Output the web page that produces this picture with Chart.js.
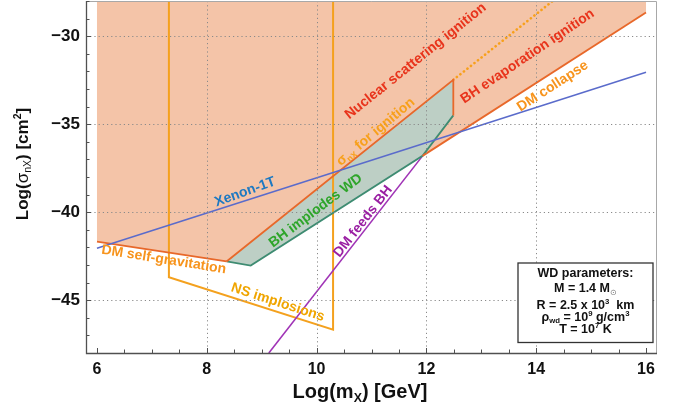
<!DOCTYPE html>
<html>
<head>
<meta charset="utf-8">
<script src="https://cdn.jsdelivr.net/npm/chart.js@4/dist/chart.umd.min.js"></script>
<style>
  html, body { margin: 0; padding: 0; background: #ffffff; }
  #wrap { width: 681px; height: 413px; position: relative; }
</style>
</head>
<body>
<div id="wrap"><canvas id="c" width="681" height="413"></canvas></div>
<script>
// Axis ticks: log10(m_X / GeV) and log10(sigma_nX / cm^2)
const massTicks = [6, 8, 10, 12, 14, 16];
const sigmaTicks = [-45, -40, -35, -30];

// Curves, as [log10 m_X, log10 sigma_nX] pairs
const ignitionExcluded = [[6, -28], [6, -41.67], [8.36, -42.8], [8.8, -43.03], [11.93, -36.8], [16, -28.65], [16, -28]];
const bhImplodesWD = [[8.36, -42.8], [8.8, -43.03], [11.93, -36.8], [12.49, -34.5], [12.49, -32.48]];
const selfGravitation = [[6, -41.67], [8.36, -42.8]];
const nuclearScattering = [[8.36, -42.8], [12.49, -32.48], [12.49, -34.5]];
const nuclearScatteringExtended = [[12.49, -32.48], [14.3, -28]];
const bhEvaporation = [[11.93, -36.8], [16, -28.65]];
const implodesLowerEdge = [[8.36, -42.8], [8.8, -43.03], [11.93, -36.8], [12.49, -34.5]];
const xenon1T = [[6, -42.05], [16, -32.05]];
const dmFeedsBH = [[9.13, -48], [11.93, -36.8]];
const nsImplosions = [[7.31, -28], [7.31, -43.7], [10.3, -46.67], [10.3, -28]];

const FONT = '"Liberation Sans", Arial, Helvetica, sans-serif';

// ---- rich text helpers (sub/superscripts) ----
function segFont(size, seg) {
  const s = seg.k ? size * 0.62 : size;
  const w = seg.w || 'bold';
  return `${w} ${s}px ${FONT}`;
}
function richWidth(ctx, segs, size) {
  let w = 0;
  for (const s of segs) { ctx.font = segFont(size, s); w += ctx.measureText(s.t).width; }
  return w;
}
// draws text centred horizontally on x, with baseline at y
function drawRich(ctx, segs, x, y, size, color) {
  const total = richWidth(ctx, segs, size);
  let cx = x - total / 2;
  ctx.textAlign = 'left';
  ctx.textBaseline = 'alphabetic';
  for (const s of segs) {
    ctx.font = segFont(size, s);
    ctx.fillStyle = s.c || color;
    const dy = s.k === 'sub' ? size * 0.2 : s.k === 'sup' ? -size * 0.38 : 0;
    ctx.fillText(s.t, cx, y + dy);
    cx += ctx.measureText(s.t).width;
  }
}

// ---- curve labels (placed in data coordinates) ----
const curveLabels = [
  { segs: [{ t: 'Nuclear scattering ignition' }], x: 11.79, y: -31.37, angle: -38.8, color: '#E8341C' },
  { segs: [{ t: 'BH evaporation ignition' }], x: 13.83, y: -31.09, angle: -34, color: '#E8341C' },
  { segs: [{ t: 'DM collapse' }], x: 14.29, y: -32.79, angle: -33, color: '#F7941D' },
  { segs: [{ t: 'σ' }, { t: 'nX', k: 'sub' }, { t: ' for ignition' }], x: 11.06, y: -35.39, angle: -40, color: '#F7A01B' },
  { segs: [{ t: 'BH implodes WD' }], x: 9.97, y: -39.86, angle: -37, color: '#2EA52A' },
  { segs: [{ t: 'Xenon-1T' }], x: 8.69, y: -38.79, angle: -20, color: '#1D79C2' },
  { segs: [{ t: 'DM feeds BH' }], x: 10.83, y: -40.49, angle: -52, color: '#9A1FA3' },
  { segs: [{ t: 'DM self-gravitation' }], x: 7.22, y: -42.63, angle: 9, color: '#F7941D' },
  { segs: [{ t: 'NS implosions' }], x: 9.30, y: -45.06, angle: 18, color: '#F0A500' }
];

const paramLines = [
  [{ t: 'WD parameters:' }],
  [{ t: 'M = 1.4 M' }, { t: '⊙', k: 'sub', w: 'normal', c: '#777777' }],
  [{ t: 'R = 2.5 x 10' }, { t: '3', k: 'sup' }, { t: '  km' }],
  [{ t: 'ρ' }, { t: 'wd', k: 'sub' }, { t: ' = 10' }, { t: '9', k: 'sup' }, { t: ' g/cm' }, { t: '3', k: 'sup' }],
  [{ t: 'T = 10' }, { t: '7', k: 'sup' }, { t: ' K' }]
];

// frame, dotted grid, inward ticks
const framePlugin = {
  id: 'frame',
  afterDatasetsDraw(chart) {
    const { ctx, chartArea: a, scales: { x, y } } = chart;
    ctx.save();
    // dotted grid
    ctx.strokeStyle = '#8a8a8a';
    ctx.lineWidth = 1;
    ctx.setLineDash([1.2, 3]);
    for (const v of massTicks) {
      if (v <= 6 || v >= 16) continue;
      const px = Math.round(x.getPixelForValue(v)) + 0.5;
      ctx.beginPath(); ctx.moveTo(px, a.top); ctx.lineTo(px, a.bottom); ctx.stroke();
    }
    for (const v of sigmaTicks) {
      const py = Math.round(y.getPixelForValue(v)) + 0.5;
      ctx.beginPath(); ctx.moveTo(a.left, py); ctx.lineTo(a.right, py); ctx.stroke();
    }
    ctx.setLineDash([]);
    // top / right frame
    ctx.strokeStyle = '#a8a8a8';
    ctx.lineWidth = 1;
    ctx.beginPath();
    ctx.moveTo(a.left, a.top + 0.5); ctx.lineTo(a.right - 0.5, a.top + 0.5); ctx.lineTo(a.right - 0.5, a.bottom);
    ctx.stroke();
    // left / bottom axes
    ctx.strokeStyle = '#505050';
    ctx.lineWidth = 1.3;
    ctx.beginPath();
    ctx.moveTo(a.left + 0.5, a.top); ctx.lineTo(a.left + 0.5, a.bottom + 0.5); ctx.lineTo(a.right, a.bottom + 0.5);
    ctx.stroke();
    // inward tick marks
    ctx.lineWidth = 1;
    ctx.beginPath();
    for (let v = 6; v <= 16.001; v += 0.5) {
      const px = Math.round(x.getPixelForValue(v)) + 0.5;
      const len = massTicks.includes(v) ? 5 : 3.5;
      ctx.moveTo(px, a.bottom); ctx.lineTo(px, a.bottom - len);
    }
    for (let v = -48; v <= -28; v += 1) {
      const py = Math.round(y.getPixelForValue(v)) + 0.5;
      const len = sigmaTicks.includes(v) ? 5 : 3.5;
      ctx.moveTo(a.left, py); ctx.lineTo(a.left + len, py);
    }
    ctx.stroke();
    ctx.restore();
  },
  afterDraw(chart) {
    const { ctx, chartArea: a, scales: { x, y } } = chart;
    ctx.save();
    // curve labels
    for (const L of curveLabels) {
      const px = x.getPixelForValue(L.x), py = y.getPixelForValue(L.y);
      ctx.save();
      ctx.translate(px, py);
      ctx.rotate(L.angle * Math.PI / 180);
      drawRich(ctx, L.segs, 0, 14 * 0.36, 14, L.color);
      ctx.restore();
    }
    // parameter box
    const bw = 135, bh = 79.5;
    const bx = a.right - 4 - bw, by = a.bottom - 10.5 - bh;
    ctx.fillStyle = '#ffffff';
    ctx.fillRect(bx, by, bw, bh);
    ctx.strokeStyle = '#333333';
    ctx.lineWidth = 1.3;
    ctx.strokeRect(bx, by, bw, bh);
    const offs = [14.2, 29.2, 45.7, 57.7, 70.2];
    paramLines.forEach((segs, i) => drawRich(ctx, segs, bx + bw / 2, by + offs[i], 12.5, '#111111'));
    // axis titles
    drawRich(ctx, [{ t: 'Log(m' }, { t: 'X', k: 'sub' }, { t: ') [GeV]' }], 360, 398, 20, '#111111');
    ctx.save();
    ctx.translate(27.5, 164);
    ctx.rotate(-Math.PI / 2);
    drawRich(ctx, [{ t: 'Log(' }, { t: 'σ', w: 'normal' }, { t: 'nX', k: 'sub', w: 'normal' }, { t: ') [cm' }, { t: '2', k: 'sup' }, { t: ']' }], 0, 0, 17, '#111111');
    ctx.restore();
    ctx.restore();
  }
};

const toXY = pts => pts.map(([px, py]) => ({ x: px, y: py }));
function lineSet(data, color, width, extra) {
  return Object.assign({
    data: toXY(data), showLine: true, borderColor: color, borderWidth: width,
    pointRadius: 0, pointHoverRadius: 0, fill: false, tension: 0
  }, extra || {});
}

const fmt = v => (v < 0 ? '\u2212' + Math.abs(v) : String(v));

new Chart(document.getElementById('c'), {
  type: 'scatter',
  data: {
    datasets: [
      lineSet(ignitionExcluded, 'rgba(0,0,0,0)', 0, { fill: 'shape', backgroundColor: '#F4C4A8', order: 20 }),
      lineSet(bhImplodesWD, 'rgba(0,0,0,0)', 0, { fill: 'shape', backgroundColor: '#BDCFC5', order: 19 }),
      lineSet(nsImplosions, '#F4A11E', 2, { order: 9 }),
      lineSet(dmFeedsBH, '#A033B6', 1.6, { order: 8 }),
      lineSet(implodesLowerEdge, '#3E8C72', 1.8, { order: 7 }),
      lineSet(selfGravitation, '#E8682A', 1.8, { order: 6 }),
      lineSet(bhEvaporation, '#E8682A', 1.8, { order: 5 }),
      lineSet(nuclearScatteringExtended, '#F7A01B', 2.6, { order: 4, borderDash: [0.1, 4.4], borderCapStyle: 'round' }),
      lineSet(nuclearScattering, '#E8682A', 1.8, { order: 3 }),
      lineSet(xenon1T, '#5A6BCB', 1.5, { order: 2 })
    ]
  },
  options: {
    responsive: false,
    animation: false,
    devicePixelRatio: 1,
    events: [],
    layout: { padding: { top: 1, right: 24, left: 0, bottom: 0 } },
    plugins: { legend: { display: false }, tooltip: { enabled: false } },
    scales: {
      x: {
        type: 'linear', min: 5.8, max: 16.2,
        grid: { display: false, drawTicks: false },
        border: { display: false },
        afterBuildTicks: s => { s.ticks = massTicks.map(v => ({ value: v })); },
        afterFit: s => { s.height = 60; s.paddingLeft = 0; s.paddingRight = 0; },
        ticks: { color: '#111111', padding: 7, maxRotation: 0, autoSkip: false, font: { family: FONT, size: 16, weight: 'bold' }, callback: v => fmt(v) }
      },
      y: {
        type: 'linear', min: -48, max: -28,
        grid: { display: false, drawTicks: false },
        border: { display: false },
        afterBuildTicks: s => { s.ticks = sigmaTicks.map(v => ({ value: v })); },
        afterFit: s => { s.width = 86; s.paddingTop = 0; s.paddingBottom = 0; },
        ticks: { color: '#111111', padding: 6, autoSkip: false, font: { family: FONT, size: 17, weight: 'bold' }, callback: v => fmt(v) }
      }
    }
  },
  plugins: [framePlugin]
});
</script>
</body>
</html>
